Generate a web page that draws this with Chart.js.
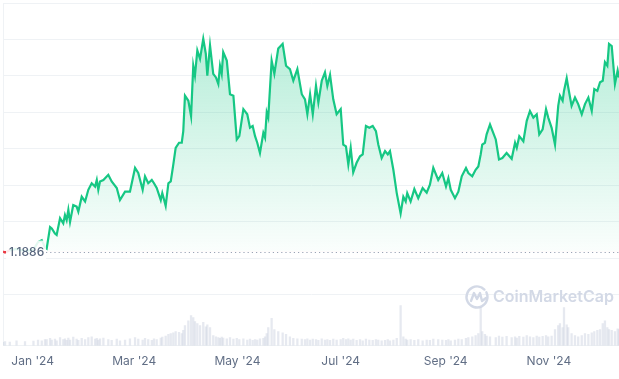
<!DOCTYPE html>
<html><head><meta charset="utf-8">
<script src="https://cdn.jsdelivr.net/npm/chart.js@4.4.1/dist/chart.umd.min.js"></script>
<style>html,body{margin:0;padding:0;background:#fff}#wrap{width:619px;height:379px;position:relative}</style>
</head><body><div id="wrap"><canvas id="c"></canvas></div>
<script>
// day offsets from 1 Jan 2024
const days = [-17.5,-16.3,-13.5,-9.5,-4.5,0.5,3.2,5.4,7.3,
8.3,10.3,11.3,13.2,14.2,16.2,18.1,19.1,20.1,21.1,22.1,24.0,26.0,27.0,29.0,31.0,32.9,34.9,36.9,37.9,38.8,39.8,41.8,44.7,46.7,49.7,51.6,54.6,57.5,60.5,
62.4,65.0,66.4,68.3,70.4,71.7,73.3,75.7,76.6,78.6,80.2,81.6,83.1,84.5,86.5,88.1,89.0,90.0,92.0,93.6,94.9,95.9,97.3,98.9,100.8,102.3,103.2,104.8,
106.7,108.3,109.7,110.7,111.7,112.6,114.7,116.6,118.6,120.6,122.1,124.5,126.8,128.4,130.0,131.4,132.7,134.3,136.3,137.3,138.3,139.2,141.2,142.8,145.1,147.7,
149.7,152.0,154.0,156.4,159.0,160.9,162.3,163.9,165.5,167.4,168.8,170.8,172.7,174.1,175.7,177.6,179.6,182.0,183.5,185.1,186.5,187.9,189.4,191.4,193.4,195.0,
196.9,198.9,200.9,202.8,204.2,206.2,208.2,209.8,211.1,213.1,215.1,217.4,219.0,220.4,221.3,223.3,225.5,227.8,230.4,232.8,234.7,236.7,239.6,242.0,244.2,245.6,
247.0,249.5,251.5,253.5,256.0,257.4,259.7,261.7,263.3,264.7,265.6,267.2,268.2,270.2,273.6,275.5,277.5,280.0,283.0,285.0,286.0,287.5,289.9,291.9,293.8,295.8,
297.8,299.3,301.3,303.3,304.6,306.6,308.6,310.5,311.5,313.1,313.9,315.5,316.4,318.4,320.4,322.3,324.4,326.3,328.3,330.3,331.8,333.6,335.2,336.8,338.1,339.5,
340.5,342.1,344.0,345.6,346.4];
const prices = [1.1886,1.16,1.22,1.26,1.20,1.24,1.45,1.50,1.30,
1.27,1.86,1.82,1.68,1.64,2.10,1.96,2.19,2.05,2.33,2.00,2.46,2.42,2.28,2.69,2.56,2.88,3.06,2.97,3.15,2.88,3.11,3.15,3.29,3.11,2.93,2.60,2.83,2.83,3.48,
3.34,2.88,3.25,3.06,3.15,3.06,2.93,2.60,2.79,2.44,3.06,3.11,3.57,4.03,4.17,4.17,4.49,5.46,5.32,4.90,6.28,6.01,6.70,6.47,7.02,6.61,6.01,6.84,
6.06,5.96,5.78,6.28,6.06,6.65,6.42,5.50,5.46,4.26,4.35,5.09,4.95,4.58,4.63,4.35,4.17,3.89,4.44,4.31,5.00,4.86,6.42,6.06,6.75,6.88,
6.28,6.19,5.87,6.19,5.50,5.36,4.95,5.50,4.95,5.73,5.27,5.87,6.10,5.73,6.03,5.36,4.95,5.09,4.12,4.07,3.57,4.03,3.36,3.62,3.80,3.85,
4.63,4.58,4.63,4.49,4.12,3.75,3.94,3.85,3.94,3.43,2.79,2.23,2.69,2.56,2.79,2.56,2.90,2.65,2.93,2.80,3.02,3.48,3.15,3.34,2.97,3.20,
2.88,2.65,2.83,3.25,3.48,3.34,3.25,3.43,3.52,3.85,4.12,4.17,4.40,4.67,4.26,3.71,3.75,3.89,3.73,4.17,4.03,4.35,4.21,4.77,5.04,4.86,
4.95,4.40,4.54,5.09,4.86,4.58,4.12,5.18,5.46,5.32,5.59,5.94,5.69,5.18,5.41,5.23,4.95,5.23,5.41,5.04,5.64,5.59,5.83,5.87,6.38,6.28,
6.88,6.82,5.78,6.15,5.96];
const volumes = [8,10,9,12,10,11,14,12,15,
15,18,14,16,12,20,15,17,13,19,14,21,16,13,18,15,20,22,16,18,14,17,19,15,13,16,12,14,17,20,
16,14,18,15,13,17,15,19,21,24,28,30,32,35,33,
30,38,50,62,75,70,60,
55,50,58,47,52,45,
25,22,20,18,21,19,17,20,16,18,
15,17,14,16,13,15,14,17,18,22,30,45,
68,40,35,32,
28,22,18,17,16,15,17,14,16,15,13,17,14,15,13,16,14,15,
18,15,17,14,16,13,15,12,16,14,13,15,14,12,13,15,12,14,
18,100,22,16,14,15,
13,15,12,14,13,16,15,14,13,15,12,14,16,15,18,20,22,25,30,95,35,28,24,22,
20,24,21,23,20,22,19,23,21,25,22,20,24,21,23,25,22,24,
40,50,55,45,95,52,45,
30,25,22,25,30,28,32,35,38,40,55,62,45,40,38,35,42,40];
const baseline = 1.1886;
const baselineLabel = '1.1886';
const tickDays = [0,60,121,182,244,305];
const tickLabels = ["Jan '24","Mar '24","May '24","Jul '24","Sep '24","Nov '24"];
const gridValues = [0,1,2,3,4,5,6,7,8];

const GREEN = '#16c784', RED = '#ea3943';
const pricePts = days.map((d,i)=>({x:d,y:prices[i]}));
const volPts = days.map((d,i)=>({x:d,y:volumes[i]}));

const overlay = {
  id:'overlay',
  beforeDatasetsDraw(chart){
    const c = chart.ctx;
    c.save();
    c.strokeStyle = '#d3d9e6'; c.lineWidth = 2.4; c.lineCap='round'; c.lineJoin='round';
    const cx = 477, cy = 297, r = 10.5;
    c.beginPath(); c.arc(cx, cy, r, -0.15*Math.PI, 1.75*Math.PI, false); c.stroke();
    c.beginPath();
    c.moveTo(cx-6, cy+4); c.lineTo(cx-3, cy-4); c.lineTo(cx, cy+2); c.lineTo(cx+3, cy-4); c.lineTo(cx+5, cy+4); c.lineTo(cx+9, cy+1);
    c.stroke();
    c.fillStyle = '#d3d9e6';
    c.font = '600 16px Inter';
    c.textBaseline = 'middle';
    c.fillText('CoinMarketCap', 493, 297.5);
    c.restore();
  },
  afterDatasetsDraw(chart){
    const c = chart.ctx, a = chart.chartArea;
    const y = chart.scales.y.getPixelForValue(baseline);
    c.save();
    c.strokeStyle = '#9aa3b5'; c.lineWidth = 1; c.setLineDash([1.2,3]);
    c.beginPath(); c.moveTo(46, Math.round(y)+0.5); c.lineTo(a.right, Math.round(y)+0.5); c.stroke();
    c.setLineDash([]);
    c.fillStyle = 'rgba(255,255,255,0.88)';
    c.fillRect(6, y-11, 40, 22);
    c.fillStyle = '#58667e';
    c.font = '500 12px Inter';
    c.textBaseline = 'middle';
    c.fillText(baselineLabel, 9, y+1);
    c.restore();
  }
};

new Chart(document.getElementById('c'), {
  data:{
    datasets:[
      {
        type:'line', data: pricePts, order:1, yAxisID:'y',
        borderWidth:2.2, pointRadius:0, tension:0,
        borderColor: GREEN,
        segment:{ borderColor: ctx => (ctx.p0.parsed.y < baseline || ctx.p1.parsed.y < baseline) ? RED : GREEN },
        backgroundColor: (context) => {
          const ch = context.chart; const a = ch.chartArea;
          if (!a) return 'rgba(22,199,132,0.15)';
          const yb = ch.scales.y.getPixelForValue(baseline);
          const g = ch.ctx.createLinearGradient(0, a.top, 0, yb);
          g.addColorStop(0, 'rgba(22,199,132,0.36)');
          g.addColorStop(1, 'rgba(22,199,132,0.02)');
          return g;
        },
        fill:{ target:{value: baseline}, below:'rgba(234,57,67,0.08)' }
      },
      {
        type:'bar', data: volPts, order:2, yAxisID:'yVol',
        backgroundColor:'rgba(205,211,225,0.5)', barThickness:1.6, borderWidth:0
      }
    ]
  },
  options:{
    responsive:true, maintainAspectRatio:false, animation:false, devicePixelRatio:1,
    layout:{ padding:{ left:3, top:3, right:0, bottom:1 } },
    plugins:{ legend:{display:false}, tooltip:{enabled:false} },
    scales:{
      x:{
        type:'linear', min:-17.5, max:346.4, offset:false,
        grid:{ display:false, drawTicks:false },
        border:{ display:true, color:'#eff2f5' },
        afterBuildTicks: ax => { ax.ticks = tickDays.map(v=>({value:v})); },
        ticks:{ autoSkip:false, maxRotation:0, padding:9, color:'#616e85',
          font:{ family:'Inter', size:12 },
          callback: v => { const i = tickDays.indexOf(v); return i>=0 ? tickLabels[i] : ''; } }
      },
      y:{
        min:-1.39, max:8, position:'left',
        afterBuildTicks: ax => { ax.ticks = gridValues.map(v=>({value:v})); },
        grid:{ color:'#eff2f5', drawTicks:false, lineWidth:1 },
        border:{ display:true, color:'#eff2f5' },
        ticks:{ display:false }
      },
      yVol:{ min:0, max:854, display:false }
    }
  },
  plugins:[overlay]
});
</script>
</body></html>
